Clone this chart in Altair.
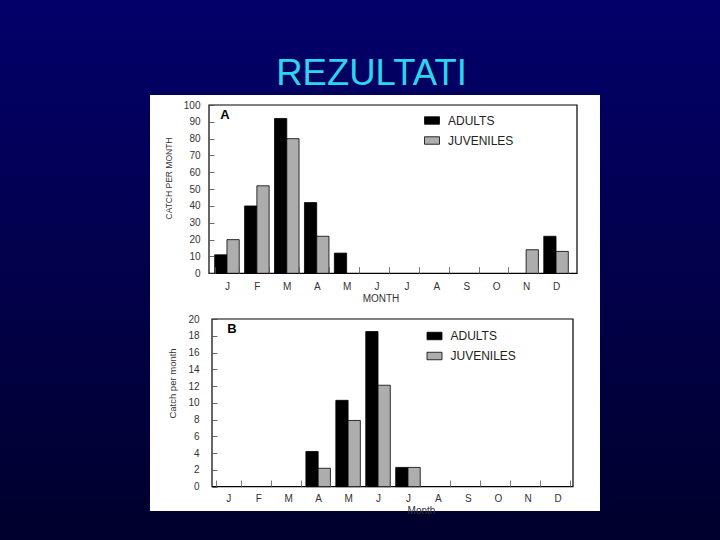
import altair as alt
import pandas as pd
import jinja2

# ---------------- data ----------------
months = ["Jan", "Feb", "Mar", "Apr", "May", "Jun",
          "Jul", "Aug", "Sep", "Oct", "Nov", "Dec"]
series = ["ADULTS", "JUVENILES"]
series_colors = ["#000000", "#adadad"]

a_adults = [11, 40, 92, 42, 12, 0, 0, 0, 0, 0, 0, 22]
a_juveniles = [20, 52, 80, 22, 0, 0, 0, 0, 0, 0, 14, 13]
b_adults = [0, 0, 0, 4.2, 10.3, 18.5, 2.3, 0, 0, 0, 0, 0]
b_juveniles = [0, 0, 0, 2.2, 7.9, 12.1, 2.3, 0, 0, 0, 0, 0]

a_ticks = [0, 10, 20, 30, 40, 50, 60, 70, 80, 90, 100]
b_ticks = [0, 2, 4, 6, 8, 10, 12, 14, 16, 18, 20]

slide_title = ["REZULTATI"]
a_ytitle = "CATCH PER MONTH"
a_xtitle = "MONTH"
b_ytitle = "Catch per month"
b_xtitle = "Month"
panel_a = ["A"]
panel_b = ["B"]

W, H = 720, 540
FONT = "Liberation Sans"
TXT = "#333333"


def long_df(adults, juveniles):
    rows = []
    for m, a, j in zip(months, adults, juveniles):
        rows.append({"month": m, "series": series[0], "value": a})
        rows.append({"month": m, "series": series[1], "value": j})
    df = pd.DataFrame(rows)
    return df[df["value"] > 0]


one = pd.DataFrame({"k": [0]})

# ---------------- slide decoration ----------------
bg = alt.Chart(one).mark_rect(
    color=alt.LinearGradient(
        gradient="linear",
        stops=[alt.GradientStop(color="#03006a", offset=0),
               alt.GradientStop(color="#00002c", offset=1)],
        x1=0, x2=0, y1=0, y2=1,
    )
).encode(x=alt.value(0), x2=alt.value(W), y=alt.value(0), y2=alt.value(H))

box = alt.Chart(one).mark_rect(color="white").encode(
    x=alt.value(150), x2=alt.value(600), y=alt.value(95), y2=alt.value(511)
)

title = alt.Chart(pd.DataFrame({"t": slide_title})).mark_text(
    font=FONT, fontSize=36.5, color="#2cd5ee", align="center", baseline="alphabetic"
).encode(text="t:N", x=alt.value(371.5), y=alt.value(85))

frame_a = alt.Chart(one).mark_rect(fillOpacity=0, stroke="black", strokeWidth=1.2).encode(
    x=alt.value(209), x2=alt.value(577), y=alt.value(105), y2=alt.value(273.3)
)
frame_b = alt.Chart(one).mark_rect(fillOpacity=0, stroke="black", strokeWidth=1.2).encode(
    x=alt.value(212), x2=alt.value(573), y=alt.value(319), y2=alt.value(486.7)
)

letter_a = alt.Chart(pd.DataFrame({"t": panel_a})).mark_text(
    font=FONT, fontSize=13, fontWeight="bold", color="black", align="center", baseline="middle"
).encode(text="t:N", x=alt.value(225), y=alt.value(115))
letter_b = alt.Chart(pd.DataFrame({"t": panel_b})).mark_text(
    font=FONT, fontSize=13, fontWeight="bold", color="black", align="center", baseline="middle"
).encode(text="t:N", x=alt.value(232), y=alt.value(329))


# ---------------- panels ----------------
def panel(df, x_range, y_range, y_domain, y_ticks, y_axis_x, x_axis_y, tick_len,
          x_label_pad, ytitle, ytitle_xy, ytitle_size, xtitle, xtitle_xy,
          xtitle_baseline, legend_xy, y_label_pad):
    return alt.Chart(df).mark_bar(stroke="black", strokeWidth=0.8).encode(
        x=alt.X(
            "month:N",
            scale=alt.Scale(domain=months, range=x_range, paddingInner=0.18, paddingOuter=0.09),
            axis=alt.Axis(
                orient="bottom", offset=x_axis_y - H, zindex=1, domain=False, grid=False,
                ticks=True, tickBand="extent", tickSize=tick_len, tickColor="#555555",
                tickWidth=0.8, labelExpr="substring(datum.label, 0, 1)", labelAngle=0,
                labelPadding=x_label_pad, labelFontSize=10, labelColor=TXT, labelFont=FONT,
                title=xtitle, titleFont=FONT, titleFontSize=10, titleFontWeight="normal",
                titleColor=TXT, titleX=xtitle_xy[0], titleY=xtitle_xy[1],
                titleAlign="center", titleBaseline=xtitle_baseline, titleAngle=0,
            ),
        ),
        xOffset=alt.XOffset("series:N", scale=alt.Scale(domain=series, paddingInner=0, paddingOuter=0)),
        y=alt.Y(
            "value:Q",
            scale=alt.Scale(domain=y_domain, range=y_range, nice=False, zero=True),
            axis=alt.Axis(
                orient="left", offset=-y_axis_x, zindex=1, values=y_ticks, domain=False,
                grid=False, ticks=True, tickSize=5, tickColor="#444444", tickWidth=0.8,
                labelPadding=y_label_pad, labelFontSize=10, labelColor=TXT, labelFont=FONT,
                title=ytitle, titleFont=FONT, titleFontSize=ytitle_size,
                titleFontWeight="normal", titleColor=TXT, titleAngle=270,
                titleX=ytitle_xy[0] - y_axis_x, titleY=ytitle_xy[1],
                titleAlign="center", titleBaseline="middle",
            ),
        ),
        color=alt.Color(
            "series:N",
            scale=alt.Scale(domain=series, range=series_colors),
            legend=alt.Legend(
                orient="none", legendX=legend_xy[0], legendY=legend_xy[1], title=None,
                direction="vertical", symbolType="M-1,-0.5H1V0.5H-1Z", symbolSize=225,
                symbolStrokeColor="black", symbolStrokeWidth=0.8, symbolOpacity=1,
                labelFont=FONT, labelFontSize=12, labelColor="#222222", labelOffset=8,
                rowPadding=6, padding=0,
            ),
        ),
    )


bars_a = panel(
    long_df(a_adults, a_juveniles), x_range=[212, 571], y_range=[273.3, 105],
    y_domain=[0, 100], y_ticks=a_ticks, y_axis_x=214, x_axis_y=266.6, tick_len=6.7,
    x_label_pad=8.5, ytitle=a_ytitle, ytitle_xy=(168, 178), ytitle_size=8.5,
    xtitle=a_xtitle, xtitle_xy=(380.5, 31.4), xtitle_baseline="middle",
    legend_xy=(424, 112.5), y_label_pad=9,
)
bars_b = panel(
    long_df(b_adults, b_juveniles), x_range=[213.4, 572.6], y_range=[486.7, 319],
    y_domain=[0, 20], y_ticks=b_ticks, y_axis_x=217, x_axis_y=480, tick_len=6.7,
    x_label_pad=7, ytitle=b_ytitle, ytitle_xy=(172.5, 383), ytitle_size=9.5,
    xtitle=b_xtitle, xtitle_xy=(421, 25.5), xtitle_baseline="top",
    legend_xy=(426.5, 328), y_label_pad=13,
)

chart = alt.layer(
    bg, box, title, frame_a, frame_b, letter_a, letter_b, bars_a, bars_b
).resolve_scale(
    x="independent", y="independent", color="independent"
).properties(
    width=W, height=H, padding=0, autosize=alt.AutoSizeParams(type="none"),
    background="#00002c",
).configure_view(strokeWidth=0)

TEMPLATE = jinja2.Template("""<!DOCTYPE html>
<html>
<head>
  <meta charset="utf-8">
  <style>
    html, body { margin: 0; padding: 0; overflow: hidden; background: #010040; }
    #{{ output_div }}.vega-embed { width: 100%; display: flex; }
  </style>
  <script type="text/javascript" src="{{ base_url }}/vega@{{ vega_version }}"></script>
  <script type="text/javascript" src="{{ base_url }}/vega-lite@{{ vegalite_version }}"></script>
  <script type="text/javascript" src="{{ base_url }}/vega-embed@{{ vegaembed_version }}"></script>
</head>
<body>
  <div id="{{ output_div }}"></div>
  <script type="text/javascript">
    (function(vegaEmbed) {
      var spec = {{ spec }};
      var embedOpt = {{ embed_options }};
      function showError(el, error) {
        el.innerHTML = ('<div style="color:red;"><p>JavaScript Error: ' + error.message + '</p></div>');
        throw error;
      }
      const el = document.getElementById('{{ output_div }}');
      vegaEmbed("#{{ output_div }}", spec, embedOpt).catch(error => showError(el, error));
    })(vegaEmbed);
  </script>
</body>
</html>
""")

chart.save("out.html", embed_options={"renderer": "svg", "actions": False}, template=TEMPLATE)
